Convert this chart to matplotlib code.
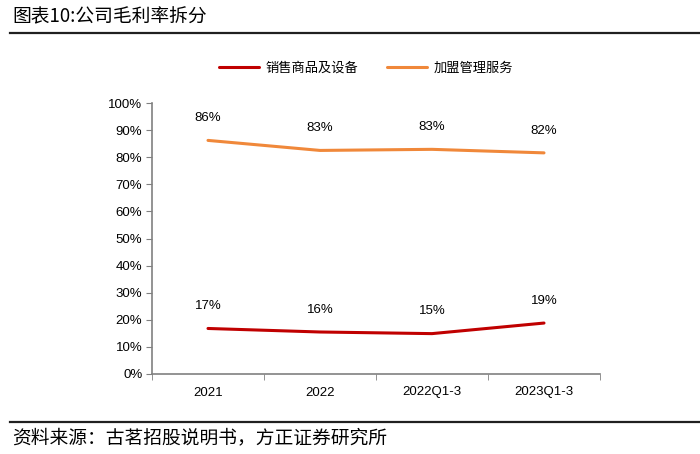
import numpy as np
import matplotlib
matplotlib.use('Agg')
import matplotlib.pyplot as plt
from matplotlib.ticker import FixedLocator, PercentFormatter

plt.rcParams['font.family'] = ['Noto Sans CJK SC', 'DejaVu Sans']

# data
categories = ['2021', '2022', '2022Q1-3', '2023Q1-3']
goods = [16.8, 15.5, 14.9, 18.8]
franchise = [86.2, 82.5, 82.9, 81.6]
goods_labels = ['17%', '16%', '15%', '19%']
franchise_labels = ['86%', '83%', '83%', '82%']

W, H = 700, 454
fig = plt.figure(figsize=(7, 4.54), dpi=100)
ax = fig.add_axes([152 / W, 1 - 374 / H, (600 - 152) / W, (374 - 103) / H])

x = np.arange(len(categories))
red = '#C00000'
orange = '#F0883A'
l1, = ax.plot(x, goods, color=red, lw=2.2, solid_capstyle='round')
l2, = ax.plot(x, franchise, color=orange, lw=2.2, solid_capstyle='round')

for xi, v, t in zip(x, goods, goods_labels):
    ax.annotate(t, (xi, v), xytext=(0, 16), textcoords='offset points',
                ha='center', va='center', fontsize=9.5, family='Liberation Sans')
for xi, v, t in zip(x, franchise, franchise_labels):
    ax.annotate(t, (xi, v), xytext=(0, 16), textcoords='offset points',
                ha='center', va='center', fontsize=9.5, family='Liberation Sans')

ax.set_xlim(-0.5, len(categories) - 0.5)
ax.set_ylim(0, 100)
ax.set_yticks(np.arange(0, 101, 10))
ax.yaxis.set_major_formatter(PercentFormatter(decimals=0))
ax.set_xticks(x)
ax.set_xticklabels(categories)
ax.xaxis.set_minor_locator(FixedLocator(np.arange(-0.5, len(categories), 1)))
ax.tick_params(axis='x', which='major', length=0, pad=9)
ax.tick_params(axis='x', which='minor', length=4, color='#808080')
ax.tick_params(axis='y', length=4, color='#808080', pad=3)
for lab in ax.get_xticklabels() + ax.get_yticklabels():
    lab.set_family('Liberation Sans')
    lab.set_fontsize(9.5)
for s in ['top', 'right']:
    ax.spines[s].set_visible(False)
for s in ['left', 'bottom']:
    ax.spines[s].set_color('#808080')
    ax.spines[s].set_linewidth(1.2)

fig.legend([l1, l2], ['销售商品及设备', '加盟管理服务'], loc='center',
           bbox_to_anchor=(366 / W, 1 - 68 / H), ncol=2, frameon=False,
           fontsize=9.5, handlelength=3.0, columnspacing=2.2, handletextpad=0.5)

# title and source
fig.text(12 / W, 1 - 17 / H, '图表10:公司毛利率拆分', fontsize=13.5, va='center', ha='left')
fig.add_artist(plt.Line2D([10 / W, 1], [1 - 33 / H] * 2, color='#202020', lw=1.6))
fig.add_artist(plt.Line2D([10 / W, 1], [1 - 422 / H] * 2, color='#202020', lw=1.6))
fig.text(12 / W, 1 - 438 / H, '资料来源：古茗招股说明书，方正证券研究所', fontsize=13.5,
         va='center', ha='left', style='italic')

fig.savefig('out.png', dpi=100)
